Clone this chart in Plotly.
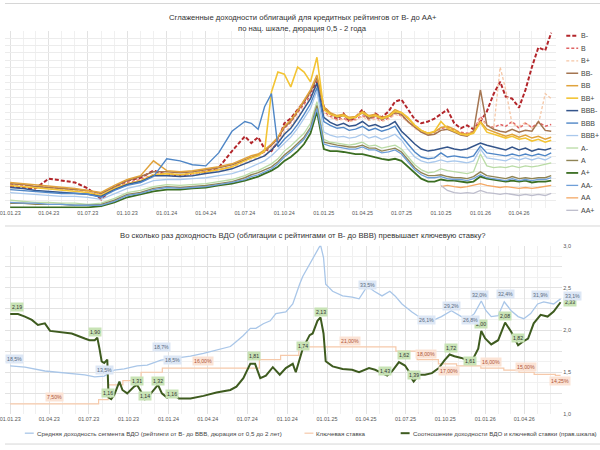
import plotly.graph_objects as go

# ---------------- TOP CHART DATA ----------------
dates_top = ["2023-01-01","2023-02-01","2023-03-01","2023-04-01","2023-05-01","2023-06-01","2023-07-01","2023-08-01",
             "2023-09-01","2023-10-01","2023-11-01","2023-12-01","2024-01-01","2024-02-01","2024-03-01","2024-04-01",
             "2024-05-01","2024-06-01","2024-07-01","2024-07-16","2024-08-01","2024-08-16","2024-09-01","2024-09-16",
             "2024-10-01","2024-10-16","2024-11-01","2024-11-16","2024-12-01","2024-12-16","2025-01-01","2025-01-16",
             "2025-02-01","2025-02-16","2025-03-01","2025-03-16","2025-04-01","2025-04-16","2025-05-01","2025-05-16",
             "2025-06-01","2025-06-16","2025-07-01","2025-07-16","2025-08-01","2025-08-16","2025-09-01","2025-09-16",
             "2025-10-01","2025-10-16","2025-11-01","2025-11-16","2025-12-01","2025-12-16","2026-01-01","2026-01-16",
             "2026-02-01","2026-02-16","2026-03-01","2026-03-16","2026-04-01","2026-04-16","2026-05-01","2026-05-16",
             "2026-06-01","2026-06-15"]

b_minus = [17.3,17.0,16.7,20.0,19.3,18.7,16.7,13.0,17.3,19.3,20.3,22.7,
           21.3,21.0,21.7,22.3,23.7,29.3,
           34.3,32.0,34.0,30.0,29.3,32.7,38.7,40.3,43.3,46.0,49.3,52.7,
           44.3,42.0,40.0,42.0,39.3,40.7,43.3,40.0,42.0,40.7,42.7,46.0,46.7,43.3,40.0,38.7,39.3,40.3,41.7,43.3,38.7,37.0,38.0,36.7,
           39.3,42.7,48.7,52.7,47.7,47.0,44.0,50.0,57.7,64.3,63.3,69.3]
b_mid = [18.0,17.7,17.3,17.0,16.7,16.3,15.7,14.7,17.0,18.7,19.7,21.3,
         21.7,21.3,21.7,22.3,23.0,24.0,
         26.3,27.3,28.0,29.0,31.3,33.7,37.0,39.0,42.3,45.0,48.0,52.0,
         42.7,41.0,40.0,40.3,39.7,40.0,41.3,40.3,40.7,39.7,40.3,42.0,41.3,39.3,37.3,36.0,35.3,35.7,37.0,37.3,36.3,35.7,35.3,36.0,
         41.0,38.0,37.3,38.3,37.7,39.3,37.0,38.7,37.3,39.0,37.7,38.3]
b_plus = [17.7,17.3,17.0,16.7,16.3,16.0,15.7,14.7,16.7,18.3,19.3,21.0,
          21.3,21.0,21.3,22.0,22.7,23.7,
          25.3,26.3,27.0,28.0,30.3,32.7,35.7,37.7,41.0,44.0,47.3,51.3,
          42.0,40.7,39.7,40.0,39.3,39.7,41.0,39.7,40.0,39.3,40.0,41.7,41.0,39.0,37.0,35.7,35.0,35.3,36.3,36.7,35.7,35.3,35.0,36.0,
          40.3,38.0,37.0,57.7,50.0,38.3,37.7,39.0,37.0,38.3,48.7,47.0]
bb_minus = [18.3,18.0,17.3,17.0,16.7,16.3,16.0,15.0,17.3,19.3,20.7,22.3,
            22.3,22.0,22.3,23.0,23.7,24.7,
            26.3,27.3,28.0,29.3,31.3,33.7,37.3,39.3,42.7,46.0,49.3,54.0,
            43.7,42.0,40.7,41.3,40.0,40.7,42.3,40.3,41.3,40.0,41.0,42.3,41.7,39.3,37.3,35.7,34.7,35.0,36.3,36.7,35.7,34.7,34.3,36.0,
            50.0,38.0,36.7,36.0,35.7,36.7,35.7,36.3,36.0,39.3,36.3,36.0]
bb_mid = [18.7,18.3,17.7,17.3,17.0,16.7,16.0,15.3,17.7,19.7,21.0,26.0,
          22.7,22.3,22.7,23.3,24.0,25.0,
          26.7,27.7,28.3,29.7,31.7,34.0,37.7,39.7,43.0,46.3,50.0,55.0,
          44.3,42.3,41.3,41.7,40.7,41.0,42.7,41.3,41.7,40.7,41.3,43.3,42.3,40.3,38.0,36.3,35.3,35.7,37.3,37.7,36.7,35.3,35.0,35.7,
          39.3,36.7,35.7,35.0,34.3,35.0,34.0,34.7,33.7,34.3,33.3,34.0]
bb_plus = [17.7,17.3,16.7,16.3,16.0,15.7,15.3,14.3,16.7,18.3,19.3,21.3,
           21.7,21.3,21.7,22.3,23.0,24.0,
           26.0,27.0,27.7,29.3,49.3,56.0,55.3,51.0,57.7,56.0,52.7,61.0,
           43.3,41.7,41.0,41.3,40.3,40.7,42.3,41.0,41.3,40.3,41.0,42.7,42.3,40.7,38.0,36.3,35.3,36.0,39.3,37.0,36.0,35.0,34.7,35.3,
           39.0,35.7,35.0,34.3,33.7,34.3,33.3,33.7,32.7,33.3,32.3,33.0]
bbb_minus = [17.0,16.7,16.0,15.7,15.3,15.0,14.7,14.0,16.3,18.0,19.0,21.0,
             21.0,20.7,21.0,21.7,22.3,23.3,
             25.0,26.0,26.7,27.7,29.7,32.0,35.0,37.0,40.3,43.7,47.0,52.3,
             40.7,39.0,38.0,38.7,37.7,38.0,39.3,37.7,38.3,37.3,38.0,39.3,36.0,34.0,31.7,30.0,29.3,29.7,30.3,30.7,30.0,29.7,30.0,31.0,
             32.0,31.3,30.7,30.3,29.7,30.7,29.7,30.3,29.3,30.0,29.7,30.3]
bbb_mid = [16.3,16.0,15.7,15.3,15.0,15.0,14.7,13.7,16.0,17.7,18.7,20.7,
           26.7,26.0,24.7,24.3,28.7,36.0,
           39.3,38.7,36.7,44.3,48.7,30.7,33.3,35.3,38.3,41.7,45.3,50.7,
           39.3,38.0,37.0,37.3,36.3,36.7,37.7,36.3,37.0,36.0,36.7,37.7,34.3,31.7,29.0,27.3,26.7,27.0,28.7,27.3,27.7,27.3,27.0,27.7,
           31.0,28.7,28.3,28.0,27.7,28.3,27.7,28.3,27.7,28.3,27.7,28.7]
bbb_plus = [15.3,15.0,14.7,14.3,14.0,14.0,13.7,13.0,15.0,16.7,17.7,19.3,
            19.7,19.7,20.0,20.3,21.0,21.7,
            23.0,24.0,25.0,26.0,27.7,29.7,32.0,34.0,37.0,40.3,43.7,49.7,
            35.7,34.7,34.0,34.3,33.7,34.0,35.0,33.7,34.3,33.3,34.0,35.0,33.0,30.0,27.3,26.0,25.3,25.7,26.3,25.7,26.0,25.7,25.3,26.0,
            30.0,27.0,26.7,26.3,26.0,27.0,26.3,27.0,26.3,27.0,26.3,27.3]
a_minus = [12.7,12.3,12.0,12.0,11.7,11.7,11.3,11.7,13.3,15.3,16.0,17.3,
           18.0,17.7,18.0,18.3,19.0,19.7,
           21.0,22.0,22.7,23.7,25.0,26.7,29.3,31.0,33.3,35.3,38.7,46.0,
           33.3,32.3,32.0,31.7,31.3,31.7,32.3,31.0,31.3,30.3,30.7,31.3,30.0,27.3,24.7,23.0,22.0,22.3,23.3,22.7,22.3,22.0,21.7,22.3,
           28.3,24.3,23.7,24.0,23.7,24.3,23.7,24.3,24.0,24.3,24.7,25.3]
a_mid = [11.7,11.7,11.3,11.3,11.3,11.0,11.0,11.3,12.7,14.7,15.3,16.7,
         17.3,17.0,17.3,17.7,18.3,19.0,
         20.3,21.3,22.0,23.0,24.0,25.7,28.0,29.7,32.0,34.0,37.3,44.7,
         32.3,31.7,31.3,31.0,30.7,30.7,31.3,30.3,30.3,29.3,29.7,30.3,29.0,26.3,23.7,22.0,21.0,21.0,21.3,20.7,20.3,20.3,20.0,20.7,
         22.3,21.0,20.7,20.3,20.0,20.7,20.0,20.3,20.0,20.3,20.3,21.0]
a_plus = [10.3,10.3,10.3,10.3,10.3,10.3,10.3,10.7,12.0,13.7,14.7,15.7,
          16.3,16.3,16.7,17.0,17.7,18.3,
          19.3,20.0,20.7,21.7,22.7,24.0,26.0,27.3,29.3,31.7,35.3,42.7,
          30.0,29.3,29.3,29.0,28.7,28.3,28.3,27.7,27.3,26.7,26.3,26.7,26.0,24.0,21.7,20.0,19.0,19.0,19.7,19.3,19.3,19.0,18.7,19.0,
          20.7,20.0,19.7,19.3,19.0,19.3,19.0,19.3,18.7,19.0,19.0,19.3]
aa_minus = [12.0,11.7,11.7,11.3,11.3,11.0,11.0,11.0,12.3,14.3,15.0,16.3,
            17.0,16.7,17.0,17.3,18.0,18.7,
            19.7,20.7,21.3,22.3,23.3,25.0,27.3,29.0,31.3,33.3,36.7,43.7,
            31.7,31.0,30.7,30.3,30.0,30.0,30.7,29.7,29.7,28.7,29.0,29.7,28.3,25.7,23.0,21.3,20.3,20.3,20.7,20.0,19.7,19.7,19.3,20.0,
            21.3,20.3,20.0,19.7,19.3,20.0,19.3,19.7,19.3,19.7,19.7,20.3]
aa_mid = [None] * 48 + [17.3,17.7,17.3,17.0,17.3,17.7,18.3,17.7,17.3,17.0,17.3,17.0,16.7,17.0,16.7,17.0,17.3,17.7]
aa_plus = [None] * 48 + [17.7,16.0,15.3,15.0,15.3,15.0,16.0,15.3,15.0,14.7,15.0,14.7,14.3,14.7,14.3,14.7,14.3,15.0]

rating_names = ["B-", "B", "B+", "BB-", "BB", "BB+", "BBB-", "BBB", "BBB+", "A-", "A", "A+", "AA-", "AA", "AA+"]
rating_values = [b_minus, b_mid, b_plus, bb_minus, bb_mid, bb_plus, bbb_minus, bbb_mid, bbb_plus,
                 a_minus, a_mid, a_plus, aa_minus, aa_mid, aa_plus]
rating_colors = ["#b3262b", "#e06464", "#f5c6a5", "#a47551", "#e0a33c", "#f3c434", "#34558b", "#4f86c6",
                 "#a9c8ec", "#b9dba5", "#8f8455", "#3b6e22", "#6f9fd8", "#f4a865", "#bdbdcc"]
rating_dash = ["4px,2px", "3px,2px", "3px,2px"] + ["solid"] * 12
rating_width = [2.0, 1.5, 1.3, 1.5, 1.5, 1.6, 1.5, 1.4, 1.3, 1.3, 1.4, 1.8, 1.3, 1.3, 1.3]

# ---------------- BOTTOM CHART DATA ----------------
vdo_dates = ["2023-01-01","2023-02-04","2023-03-22","2023-05-07","2023-06-22","2023-07-15","2023-08-06","2023-08-29",
             "2023-09-21","2023-10-21","2023-11-13","2023-12-15","2024-01-20","2024-02-21","2024-03-22","2024-04-21",
             "2024-05-23","2024-06-06","2024-06-22","2024-07-08","2024-07-21","2024-08-07","2024-08-23","2024-09-05",
             "2024-09-28","2024-10-14","2024-10-21","2024-10-30","2024-11-06","2024-11-22","2024-12-06","2024-12-17",
             "2024-12-24","2024-12-29","2025-01-14","2025-02-06","2025-02-28","2025-03-16","2025-04-04","2025-04-20",
             "2025-05-08","2025-05-26","2025-06-07","2025-06-23","2025-07-16","2025-08-08","2025-08-31","2025-09-22",
             "2025-10-15","2025-11-07","2025-11-23","2025-12-07","2025-12-23","2026-01-03","2026-01-15","2026-01-31",
             "2026-02-14","2026-03-02","2026-03-18","2026-03-31","2026-04-16","2026-05-02","2026-05-16","2026-06-08",
             "2026-06-24"]
vdo_yield = [16.5,16.2,15.3,14.8,14.4,13.9,14.1,15.5,15.8,16.5,16.7,17.9,18.3,18.8,19.5,20.2,
             21.1,22.3,23.7,25.4,25.4,26.5,27.2,28.9,29.3,31.2,33.5,35.9,37.7,40.6,42.9,45.2,
             42.2,35.9,34.2,33.1,32.8,32.4,35.4,34.2,33.1,34.2,33.1,31.2,29.3,27.7,27.2,28.2,
             29.6,28.2,27.7,28.9,31.9,29.6,28.2,28.4,31.7,29.6,28.2,27.7,28.9,31.2,31.7,31.2,32.4]

key_dates = ["2023-01-01","2023-07-24","2023-08-15","2023-09-18","2023-10-30","2023-12-18","2024-07-29","2024-09-16",
             "2024-10-28","2025-06-09","2025-07-28","2025-09-15","2025-10-27","2025-12-22","2026-02-13","2026-03-20",
             "2026-04-24","2026-06-12","2026-06-24"]
key_rate = [7.5, 8.5, 12.0, 13.0, 15.0, 16.0, 18.0, 19.0, 21.0, 20.0, 18.0, 17.0, 16.5, 16.0, 15.5, 15.0, 14.5, 14.25, 14.25]

ratio_dates = ["2023-01-01","2023-01-19","2023-02-04","2023-02-20","2023-03-06","2023-03-22","2023-04-03","2023-04-21",
               "2023-05-23","2023-06-22","2023-07-03","2023-07-15","2023-07-21","2023-07-26","2023-07-31","2023-08-06",
               "2023-08-13","2023-08-16","2023-08-22","2023-08-29","2023-09-10","2023-09-17","2023-09-28","2023-10-14",
               "2023-10-21","2023-10-30","2023-11-08","2023-11-17","2023-11-29","2023-12-08","2023-12-17","2023-12-29",
               "2024-01-09","2024-01-25","2024-02-21","2024-03-22","2024-04-21","2024-05-23","2024-06-06","2024-06-22",
               "2024-07-08","2024-07-19","2024-07-31","2024-08-13","2024-08-29","2024-09-14","2024-09-28","2024-10-14",
               "2024-10-21","2024-10-30","2024-11-06","2024-11-22","2024-11-29","2024-12-10","2024-12-17","2024-12-24",
               "2024-12-29","2025-01-14","2025-02-06","2025-02-28","2025-03-16","2025-04-08","2025-04-22","2025-05-08",
               "2025-05-20","2025-05-31","2025-06-16","2025-06-30","2025-07-09","2025-07-16","2025-07-20","2025-08-01",
               "2025-08-15","2025-08-31","2025-09-16","2025-09-29","2025-10-11","2025-10-22","2025-11-07","2025-11-23",
               "2025-11-30","2025-12-16","2025-12-23","2026-01-01","2026-01-15","2026-01-31","2026-02-16","2026-03-02",
               "2026-03-18","2026-03-31","2026-04-10","2026-04-23","2026-05-09","2026-05-25","2026-06-08","2026-06-24"]
ratio = [2.19,2.19,2.16,2.12,2.06,2.08,1.99,1.98,1.96,1.90,
         1.88,1.88,1.91,1.78,1.63,1.61,1.65,1.20,1.18,1.23,
         1.39,1.29,1.25,1.33,1.35,1.27,1.18,1.22,1.29,1.35,
         1.25,1.20,1.25,1.19,1.19,1.22,1.26,1.29,1.33,1.43,
         1.60,1.60,1.43,1.46,1.56,1.47,1.55,1.60,1.50,1.67,
         1.78,1.94,1.96,2.11,2.15,1.96,1.63,1.57,1.54,1.53,
         1.50,1.55,1.53,1.49,1.46,1.51,1.62,1.58,1.51,1.42,
         1.39,1.47,1.47,1.49,1.55,1.64,1.71,1.69,1.67,1.64,
         1.62,1.78,1.99,1.90,1.83,1.88,2.09,1.98,1.82,1.87,
         1.90,2.08,2.18,2.16,2.22,2.33]

# labels: (anchor date, text, yshift px, xshift px)
ratio_labels = [("2023-01-01","2,19",7,7),("2023-07-15","1,90",8,0),("2023-08-22","1,16",6,-3),
                ("2023-10-21","1,31",4,0),("2023-11-08","1,14",3,0),("2023-12-08","1,32",4,0),
                ("2024-01-09","1,16",-1,0),("2024-07-19","1,81",8,-1),("2024-11-06","1,74",3,0),
                ("2024-12-17","2,13",5,1),("2025-05-20","1,43",5,-2),("2025-06-16","1,62",7,5),
                ("2025-07-20","1,39",7,0),("2025-10-11","1,72",7,1),("2025-11-30","1,61",1,-1),
                ("2025-12-23","2,00",7,0),("2026-02-16","2,08",6,0),("2026-03-18","1,82",7,0),
                ("2026-06-24","2,33",0,9)]
vdo_labels = [("2023-01-01","18,5%",7,4),("2023-08-06","13,5%",6,0),("2023-12-15","18,7%",13,0),
              ("2024-01-20","18,5%",-2,-4),("2024-12-17","45,0%",6,4),("2025-04-04","33,5%",1,0),
              ("2025-08-31","26,1%",1,-5),("2025-10-15","29,2%",5,0),("2025-11-23","26,8%",-1,2),
              ("2025-12-23","32,0%",6,-2),("2026-02-14","32,4%",8,1),("2026-05-16","31,9%",7,-3),
              ("2026-06-24","33,1%",3,12)]
key_labels = [("2023-04-13","7,50%",7),("2024-03-22","16,00%",7),("2025-02-23","21,00%",6),
              ("2025-08-18","18,00%",6),("2025-10-10","17,00%",-7),("2026-01-14","16,00%",6),
              ("2026-04-06","15,00%",5),("2026-06-23","14,25%",-6)]

FONT = "Arial, Liberation Sans, sans-serif"
W, H = 600, 450

fig = go.Figure()

for name, vals, col, dash, wd in zip(rating_names, rating_values, rating_colors, rating_dash, rating_width):
    fig.add_trace(go.Scatter(x=dates_top, y=vals, mode="lines", name=name,
                             line=dict(color=col, width=wd, dash=dash),
                             xaxis="x", yaxis="y", showlegend=False, hoverinfo="skip"))

fig.add_trace(go.Scatter(x=vdo_dates, y=vdo_yield, mode="lines", line=dict(color="#a9c6e8", width=1.3),
                         xaxis="x2", yaxis="y2", showlegend=False))
fig.add_trace(go.Scatter(x=key_dates, y=key_rate, mode="lines", line=dict(color="#f6c9aa", width=1.2, shape="hv"),
                         xaxis="x2", yaxis="y2", showlegend=False))
fig.add_trace(go.Scatter(x=ratio_dates, y=ratio, mode="lines", line=dict(color="#3e5b1f", width=2),
                         xaxis="x2", yaxis="y3", showlegend=False))

ann = []
ratio_map = dict(zip(ratio_dates, ratio))
for d, t, ys, xs in ratio_labels:
    ann.append(dict(x=d, y=ratio_map[d], xref="x2", yref="y3", text=t, showarrow=False, yshift=ys, xshift=xs,
                    font=dict(size=5.2, color="#333333", family=FONT), bgcolor="#c8e3b5", borderpad=1))
vdo_map = dict(zip(vdo_dates, vdo_yield))
for d, t, ys, xs in vdo_labels:
    ann.append(dict(x=d, y=vdo_map[d], xref="x2", yref="y2", text=t, showarrow=False, yshift=ys, xshift=xs,
                    font=dict(size=5.2, color="#5a6a80", family=FONT), bgcolor="#dde7f5", borderpad=1))


def key_at(dstr):
    val = key_rate[0]
    for kd, kv in zip(key_dates, key_rate):
        if kd <= dstr:
            val = kv
    return val


for d, t, ys in key_labels:
    ann.append(dict(x=d, y=key_at(d), xref="x2", yref="y2", text=t, showarrow=False, yshift=ys,
                    font=dict(size=5.2, color="#b0573a", family=FONT), bgcolor="#fbe3d5", borderpad=1))

# titles
ann.append(dict(x=0.5, y=1 - 8 / H, xref="paper", yref="paper", showarrow=False,
                text="Сглаженные доходности облигаций для кредитных рейтингов от B- до AA+",
                font=dict(size=7.7, color="#333333", family=FONT)))
ann.append(dict(x=0.5, y=1 - 19 / H, xref="paper", yref="paper", showarrow=False,
                text="по нац. шкале, дюрация 0,5 - 2 года",
                font=dict(size=7.7, color="#333333", family=FONT)))
ann.append(dict(x=0.5, y=1 - 236 / H, xref="paper", yref="paper", showarrow=False,
                text="Во сколько раз доходность ВДО (облигации с рейтингами от B- до BBB) превышает ключевую ставку?",
                font=dict(size=7.7, color="#333333", family=FONT)))

shapes = []
# top legend (manual, compact)
for i, (name, col, dash, wd) in enumerate(zip(rating_names, rating_colors, rating_dash, rating_width)):
    ypx = 33.3 + 12.63 * i
    shapes.append(dict(type="line", xref="paper", yref="paper", x0=566 / W, x1=578 / W,
                       y0=1 - ypx / H, y1=1 - ypx / H, line=dict(color=col, width=wd, dash=dash)))
    ann.append(dict(x=579 / W, y=1 - ypx / H, xref="paper", yref="paper", xanchor="left", yanchor="middle",
                    text=name, showarrow=False, font=dict(size=7.0, color="#444444", family=FONT)))

# bottom legend
bottom_legend = [("Средняя доходность сегмента ВДО (рейтинги от B- до BBB, дюрация от 0,5 до 2 лет)", "#a9c6e8", 1.3, 20),
                 ("Ключевая ставка", "#f6c9aa", 1.2, 302),
                 ("Соотношение доходности ВДО и ключевой ставки (прав.шкала)", "#3e5b1f", 2, 399)]
for txt, col, wd, x0 in bottom_legend:
    shapes.append(dict(type="line", xref="paper", yref="paper", x0=x0 / W, x1=(x0 + 9) / W,
                       y0=1 - 436 / H, y1=1 - 436 / H, line=dict(color=col, width=wd)))
    ann.append(dict(x=(x0 + 10) / W, y=1 - 436 / H, xref="paper", yref="paper", xanchor="left", yanchor="middle",
                    text=txt, showarrow=False, font=dict(size=6.2, color="#444444", family=FONT)))

# separators between chart panels
for ypx in [0.5, 226, 447]:
    shapes.append(dict(type="line", xref="paper", yref="paper", x0=0, x1=1, y0=1 - ypx / H, y1=1 - ypx / H,
                       line=dict(color="#d6d6d6", width=1)))

xcommon = dict(type="date", tickformat="%d.%m.%y", dtick="M3", tick0="2023-01-01", ticks="",
               showgrid=True, gridcolor="#e2e2e2", gridwidth=1, ticklabeloverflow="allow",
               minor=dict(dtick="M1", showgrid=True, gridcolor="#f0f0f0"),
               tickfont=dict(size=5.4, color="#555555", family=FONT), showline=False, zeroline=False)

fig.update_layout(
    width=W, height=H, margin=dict(l=0, r=0, t=0, b=0),
    paper_bgcolor="white", plot_bgcolor="white", separators=", ",
    showlegend=False,
    xaxis=dict(domain=[0, 556 / W], range=["2022-12-20", "2026-06-27"], anchor="y", **xcommon),
    yaxis=dict(domain=[1 - 208 / H, 1 - 28 / H], range=[10, 70], dtick=2.5, showticklabels=False,
               gridcolor="#ececec", zeroline=False, anchor="x"),
    xaxis2=dict(domain=[0, 562 / W], range=["2022-12-20", "2026-06-28"], anchor="y2", **xcommon),
    yaxis2=dict(domain=[1 - 417 / H, 1 - 246 / H], range=[5, 45], dtick=5, showticklabels=False,
                gridcolor="#e2e2e2", zeroline=False, anchor="x2",
                minor=dict(dtick=2.5, showgrid=True, gridcolor="#f1f1f1")),
    yaxis3=dict(overlaying="y2", side="right", anchor="x2", range=[1, 3], dtick=0.5, tickformat=".1f",
                showgrid=False, zeroline=False, ticks="",
                tickfont=dict(size=5.5, color="#555555", family=FONT)),
    annotations=ann, shapes=shapes,
    font=dict(family=FONT),
)

fig.write_html("out.html")
